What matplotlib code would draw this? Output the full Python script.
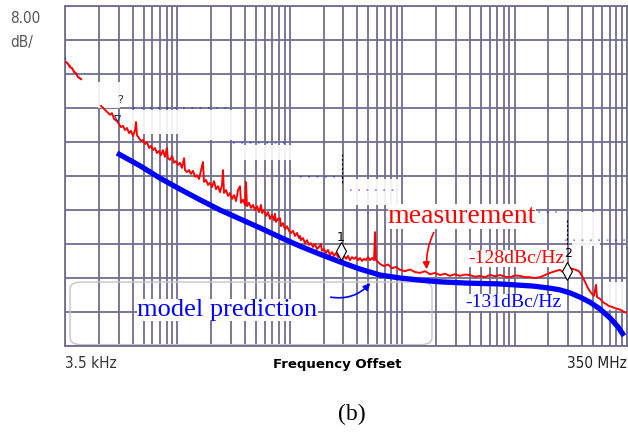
import matplotlib
matplotlib.use("Agg")
import matplotlib.pyplot as plt
import numpy as np
from matplotlib import font_manager
from matplotlib.patches import FancyBboxPatch, Rectangle
from matplotlib.ticker import NullLocator

# measured phase noise (red), offset in kHz, level in dBc/Hz
meas_head_khz = [3.57, 3.72, 3.88, 4.04, 4.21, 4.38, 4.57, 4.86]
meas_head_dbc = [-77.2, -77.6, -78.4, -78.6, -79.5, -79.8, -80.7, -81.2]

meas_khz = [
    7.32, 7.78, 8.27, 8.80, 9.17, 9.55, 10.16, 10.58, 11.02, 11.49,
    11.97, 12.47, 12.99, 13.53, 14.10, 14.69, 14.99, 15.30, 15.94, 16.61,
    17.28, 18.0, 18.75, 19.57, 20.38, 21.21, 22.1, 23.02, 24.0, 25.0,
    26.0, 27.1, 28.2, 28.8, 30.1, 31.4, 32.6, 34.0, 35.4, 36.9,
    38.4, 40.1, 40.9, 42.6, 44.4, 46.2, 48.2, 50.2, 52.3, 54.5,
    56.8, 59.1, 60.4, 62.9, 65.5, 68.2, 71.1, 74.1, 77.2, 80.4,
    83.8, 87.3, 89.1, 90.9, 94.7, 98.7, 102.8, 107.1, 111.6, 116.3,
    121.1, 126.2, 128.8, 134.2, 139.8, 142.7, 145.6, 151.8, 158.1, 164.7,
    171.6, 178.8, 186.2, 194.0, 198.0, 206.3, 215.0, 223.9, 233.3, 243.1,
    253.2, 258.4, 263.7, 274.8, 286.3, 292.2, 304.5, 317.2, 330.5, 344.3,
    358.7, 373.7, 389.3, 405.6, 422.6, 431.3, 440.2, 458.6, 477.8, 497.8,
    518.6, 540.3, 562.9, 586.4, 610.9, 636.4, 663.0, 676.8, 705.1, 734.6,
    765.3, 797.3, 830.6, 865.4, 901.6, 939.3, 978.6, 1019.5, 1062, 1106,
    1153, 1201, 1251, 1304, 1359, 1415, 1474, 1536, 1600, 1667,
    1737, 1810, 1886, 1964, 2005, 2047, 2132, 2221, 2410, 2617,
    2840, 3083, 3346, 3707, 4106, 4549, 5040, 5584, 6190, 6858,
    7590, 8410, 9320, 10330, 11400, 12630, 14000, 15510, 17200, 19060,
    21100, 23380, 26000, 28800, 31900, 35350, 39100, 43300, 48000, 53200,
    58900, 65300, 72300, 80100, 88700, 94300, 100300, 108900, 115800, 123100,
    130900, 139200, 148000, 157400, 167400, 178000, 185500, 189300, 201300, 214100,
    227600, 242000, 257300, 273700, 291100, 309500, 329100, 349900,
]
meas_dbc = [
    -87.5, -88.2, -88.9, -89.6, -89.2, -90.6, -91.1, -91.8, -92.5, -92.2,
    -93.2, -92.7, -93.9, -93.4, -94.6, -93.2, -91.3, -94.4, -95.1, -95.8,
    -95.5, -96.5, -96.0, -97.4, -96.9, -97.9, -97.4, -98.6, -98.1, -99.1,
    -97.9, -99.5, -97.4, -99.8, -100.2, -99.3, -100.9, -100.5, -101.4, -100.9,
    -102.1, -99.8, -102.6, -103.1, -102.6, -103.5, -102.8, -104.2, -103.8, -104.7,
    -102.6, -100.7, -105.4, -104.9, -106.1, -105.6, -106.6, -105.2, -107.1, -106.4,
    -107.8, -106.1, -102.6, -108.0, -107.3, -108.7, -108.0, -109.4, -108.5, -109.9,
    -107.3, -106.4, -110.3, -109.6, -110.8, -105.4, -111.1, -110.3, -111.5, -110.8,
    -112.0, -111.1, -112.5, -110.8, -112.7, -112.0, -113.4, -112.5, -114.1, -113.2,
    -114.4, -112.9, -114.8, -114.1, -113.9, -115.8, -115.1, -116.5, -115.8, -116.9,
    -117.4, -116.9, -118.1, -117.4, -118.6, -118.1, -119.1, -118.6, -119.8, -119.1,
    -120.2, -119.8, -120.7, -120.0, -121.2, -120.7, -120.0, -121.6, -121.2, -122.1,
    -121.4, -122.6, -121.9, -122.8, -122.1, -123.1, -122.6, -123.3, -122.8, -123.5,
    -122.8, -123.8, -123.1, -123.5, -123.1, -123.8, -123.3, -124.0, -123.5, -123.8,
    -123.1, -123.8, -123.3, -123.8, -117.2, -123.8, -124.2, -124.7, -125.2, -124.8,
    -125.7, -125.4, -126.1, -126.4, -126.0, -126.6, -126.8, -126.4, -127.1, -126.8,
    -127.3, -127.0, -127.5, -127.1, -127.5, -127.2, -127.3, -127.7, -127.5, -127.8,
    -127.3, -127.6, -127.3, -127.7, -127.8, -127.4, -127.5, -127.8, -127.8, -128.0,
    -127.8, -127.3, -126.8, -126.4, -126.1, -126.6, -126.1, -125.7, -125.9, -126.1,
    -126.4, -127.5, -128.9, -130.4, -131.5, -132.2, -129.6, -132.5, -132.9, -133.7,
    -134.1, -134.6, -134.8, -135.1, -135.3, -135.5, -136.0, -136.2,
]

# model prediction (blue)
model_khz = [10.16, 16.27, 24.5, 36.9, 55.6, 83.8, 126.2, 190.1, 286.3, 431.3,
             649.6, 978.6, 1474, 2221, 3346, 5040, 7590, 13170, 26000, 51000,
             72300, 88700, 108900, 133600, 164000, 201300, 247000, 291100, 329100]
model_dbc = [-98.6, -101.6, -104.5, -107.1, -109.6, -112.0, -114.1, -116.2, -118.4, -120.5,
             -122.4, -124.2, -125.9, -127.3, -128.0, -128.5, -128.9, -129.2, -129.4, -129.9,
             -130.4, -130.8, -131.5, -132.5, -133.7, -135.3, -137.4, -139.5, -141.6]

# remains of an older trace that was wiped from the screenshot
nan = float("nan")
ghost_khz = [3.5, 3.72, 4.04, 4.47, nan, 14.1, 98.7, nan, 109.3, 351.4, nan,
             431.3, 1084, nan, 1201, 3346, nan, 6190, 88700, nan, 98300, 350000]
ghost_dbc = [-76.2, -77.2, -78.6, -80.5, nan, -88.0, -88.0, nan, -96.2, -96.2, nan,
             -104.2, -104.2, nan, -107.3, -107.3, nan, -112.5, -112.5, nan, -119.1, -119.1]

# look for a narrow sans face for the analyzer annotations
fonts = font_manager.fontManager.ttflist
narrow = None
for f in fonts:
    if "Narrow" in f.name or "Condensed" in f.name or "condensed" in str(f.stretch):
        narrow = dict(family=f.name, stretch=f.stretch)
        break
if narrow:
    inst = dict(narrow, fontsize=11)
    bold_size = 9.5
else:
    inst = dict(family="DejaVu Sans Mono", fontsize=9.5)
    bold_size = 9.5
serif = "Liberation Serif"
gridc = "#6e6e8e"

fig = plt.figure(figsize=(6.28, 4.34), dpi=100)
ax = fig.add_axes([65 / 628, 88 / 434, 562 / 628, 340 / 434])
ax.set_xscale("log")
ax.set_xlim(3.5, 3.5e5)
ax.set_ylim(-144, -64)

# analyzer grid: lines at 1..9 x start frequency per decade
xgrid = [3.5 * k * 10 ** n for n in range(5) for k in range(1, 10)] + [3.5e5]
ax.set_xticks(xgrid)
ax.set_yticks(np.arange(-144, -63, 8))
ax.xaxis.set_minor_locator(NullLocator())
ax.grid(True, color=gridc, lw=1.3, zorder=1)
ax.set_axisbelow(True)
ax.tick_params(length=0, labelbottom=False, labelleft=False)
for s in ax.spines.values():
    s.set_color(gridc)
    s.set_linewidth(1.3)

# wiped-out regions of the screen
wiped = [(0.0587, 0.700, 0.039, 0.0765), (0.101, 0.6235, 0.139, 0.0706),
         (0.240, 0.606, 0.057, 0.088), (0.299, 0.547, 0.114, 0.044),
         (0.498, 0.415, 0.098, 0.076), (0.902, 0.294, 0.050, 0.100),
         (0.957, 0.106, 0.043, 0.082)]
for x0, y0, w, h in wiped:
    ax.add_patch(Rectangle((x0, y0), w, h, transform=ax.transAxes,
                           fc="white", ec="none", alpha=0.9, zorder=2))

ax.add_patch(FancyBboxPatch((0.009, 0.004), 0.644, 0.184,
                            boxstyle="round,pad=0,rounding_size=0.02",
                            transform=ax.transAxes, fc="none", ec="#c4c4c4",
                            lw=1.0, zorder=2))

ax.plot(ghost_khz, ghost_dbc, color="blue", lw=1.2, ls=(0, (1, 4)), alpha=0.5, zorder=3)
ax.plot(meas_head_khz, meas_head_dbc, color="red", lw=1.5, zorder=4)
ax.plot(meas_khz, meas_dbc, color="red", lw=1.35, zorder=4)
ax.plot(model_khz, model_dbc, color="blue", lw=3.8, solid_capstyle="butt", zorder=5)

# labels
box = dict(fc="white", ec="none", pad=0)
ax.text(11900, -115.1, "measurement", color="red", family=serif, fontsize=20,
        ha="center", va="baseline", bbox=box, zorder=7)
ax.text(97.7, -136.9, "model prediction", color="blue", family=serif, fontsize=19,
        ha="center", va="baseline", bbox=box, zorder=7)
ax.text(36500, -124.5, "-128dBc/Hz", color="red", family=serif, fontsize=14,
        ha="center", va="baseline", bbox=box, zorder=7)
ax.text(34000, -134.8, "-131dBc/Hz", color="blue", family=serif, fontsize=14,
        ha="center", va="baseline", bbox=box, zorder=7)

ax.annotate("", xy=(5820, -126.6), xytext=(6858, -116.7), zorder=7,
            arrowprops=dict(arrowstyle="-|>", color="red", lw=1.2,
                            connectionstyle="arc3,rad=0.15", mutation_scale=10))
ax.annotate("", xy=(1886, -128.7), xytext=(765, -132.4), zorder=7,
            arrowprops=dict(arrowstyle="-|>", color="blue", lw=1.2,
                            connectionstyle="arc3,rad=0.3", mutation_scale=10))

# markers
ax.plot([1030, 1030], [-98.9, -106.0], color="black", lw=0.8, ls=(0, (2, 2)), zorder=8)
ax.plot(1000, -121.7, marker="d", ms=9, mfc="white", mec="black", mew=0.8, zorder=8)
ax.text(1000, -118.5, "1", fontsize=9, family="DejaVu Sans", ha="center", va="center", zorder=8)
ax.plot([103000, 103000], [-114.4, -120.7], color="black", lw=0.8, ls=(0, (2, 2)), zorder=8)
ax.plot(103000, -126.4, marker="d", ms=9, mfc="white", mec="black", mew=0.8, zorder=8)
ax.text(105000, -122.3, "2", fontsize=9, family="DejaVu Sans", ha="center", va="center", zorder=8)
ax.text(10.8, -86.1, "?", fontsize=8, family="DejaVu Sans", ha="center", va="center",
        color="#333333", zorder=8)
ax.plot(10.1, -90.4, marker="v", ms=4, mfc="none", mec="#333366", mew=0.8, zorder=8)

# analyzer annotations
fig.text(10 / 628, 1 - 23 / 434, "8.00", color="#555555", va="baseline", **inst)
fig.text(10 / 628, 1 - 47 / 434, "dB/", color="#555555", va="baseline", **inst)
fig.text(65 / 628, 1 - 368 / 434, "3.5 kHz", color="#333333", va="baseline", **inst)
fig.text(627 / 628, 1 - 368 / 434, "350 MHz", color="#222222", va="baseline", ha="right", **inst)
fig.text(337.5 / 628, 1 - 368 / 434, "Frequency Offset", family=inst["family"],
         fontsize=bold_size, fontweight="bold", va="baseline", ha="center")
fig.text(352 / 628, 1 - 420 / 434, "(b)", family=serif, fontsize=17, va="baseline", ha="center")

fig.savefig("out.png", dpi=100)
